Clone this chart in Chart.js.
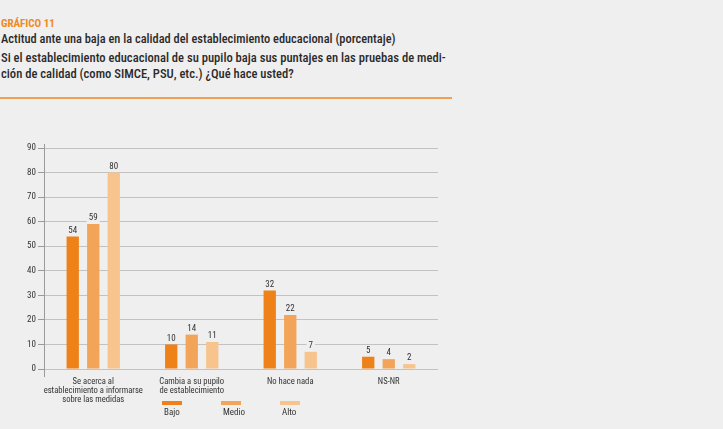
<!DOCTYPE html>
<html>
<head>
<meta charset="utf-8">
<script src="https://cdn.jsdelivr.net/npm/chart.js@4"></script>
<style>
  html, body { margin:0; padding:0; background:#efefef; }
  body { width:723px; height:429px; position:relative; overflow:hidden;
         font-family:"Roboto Condensed","Liberation Sans",sans-serif; color:#222; }
  .kicker { position:absolute; left:1px; top:17px; font-size:11px; font-weight:bold; color:#f0891f; }
  .title  { position:absolute; left:1px; top:31px; font-size:12.4px; font-weight:500; color:#2a2a2a; }
  .sub    { position:absolute; left:1px; top:50px; font-size:12.6px; font-weight:500; color:#2a2a2a; line-height:15.5px; }
  .rule   { position:absolute; left:0; top:97px; width:452px; height:2px; background:#f0a050; }
  #wrap   { position:absolute; left:0; top:130px; width:723px; height:299px; }
  .legend { position:absolute; top:401px; font-size:9px; color:#333; }
  .legend i { display:block; width:20px; height:4px; margin-bottom:2px; }
  .legend span { display:block; padding-left:2px; }
</style>
</head>
<body>
<div class="kicker">GRÁFICO 11</div>
<div class="title">Actitud ante una baja en la calidad del establecimiento educacional (porcentaje)</div>
<div class="sub">Si el establecimiento educacional de su pupilo baja sus puntajes en las pruebas de medi-<br>ción de calidad (como SIMCE, PSU, etc.) ¿Qué hace usted?</div>
<div class="rule"></div>
<div id="wrap"><canvas id="chart"></canvas></div>
<div class="legend" style="left:162px"><i style="background:#ee8118"></i><span>Bajo</span></div>
<div class="legend" style="left:221px"><i style="background:#f2a458"></i><span>Medio</span></div>
<div class="legend" style="left:280px"><i style="background:#f8c48e"></i><span>Alto</span></div>
<script>
// ── Data ─────────────────────────────────────────────────
const categories = [
  ['Se acerca al', 'establecimiento a informarse', 'sobre las medidas'],
  ['Cambia a su pupilo', 'de establecimiento'],
  ['No hace nada'],
  ['NS-NR'],
];
const seriesNames = ['Bajo', 'Medio', 'Alto'];
const bajo  = [54, 10, 32, 5];
const medio = [59, 14, 22, 4];
const alto  = [80, 11, 7, 2];
const seriesColors = ['#ee8118', '#f2a458', '#f8c48e'];

const FONT = '"Roboto Condensed","Liberation Sans",sans-serif';

// value labels above bars, with a background patch that cuts the grid line
const valueLabels = {
  id: 'valueLabels',
  afterDatasetsDraw(chart) {
    const ctx = chart.ctx;
    ctx.save();
    ctx.font = '9px ' + FONT;
    ctx.textAlign = 'center';
    ctx.textBaseline = 'middle';
    chart.data.datasets.forEach((ds, i) => {
      chart.getDatasetMeta(i).data.forEach((bar, j) => {
        const txt = String(ds.data[j]);
        const w = ctx.measureText(txt).width + 4;
        const y = bar.y - 6;
        ctx.fillStyle = '#efefef';
        ctx.fillRect(bar.x - w / 2, y - 5, w, 10);
        ctx.fillStyle = '#333';
        ctx.fillText(txt, bar.x, y);
      });
    });
    ctx.restore();
  }
};

// y axis line runs a little below zero
const axisStub = {
  id: 'axisStub',
  afterDraw(chart) {
    const { ctx, chartArea } = chart;
    ctx.save();
    ctx.strokeStyle = '#9a9a9a';
    ctx.lineWidth = 1;
    ctx.beginPath();
    ctx.moveTo(chartArea.left + 0.5, chartArea.top - 4);
    ctx.lineTo(chartArea.left + 0.5, chartArea.bottom + 8);
    ctx.stroke();
    ctx.restore();
  }
};

new Chart(document.getElementById('chart'), {
  type: 'bar',
  data: {
    labels: categories,
    datasets: [bajo, medio, alto].map((d, i) => ({
      label: seriesNames[i],
      data: d,
      backgroundColor: seriesColors[i],
      borderWidth: 0,
      categoryPercentage: 0.625,
      barPercentage: 0.6,
    }))
  },
  options: {
    responsive: true, maintainAspectRatio: false, animation: false,
    devicePixelRatio: 1,
    layout: { padding: { top: 18, right: 285, left: 0, bottom: 0 } },
    plugins: { legend: { display: false }, tooltip: { enabled: false } },
    scales: {
      x: {
        grid: { display: false },
        border: { display: false },
        ticks: { color: '#333', font: { family: FONT, size: 8.6, lineHeight: '9.2px' }, padding: 0, maxRotation: 0, autoSkip: false },
        afterFit: s => { s.height = 60; },
      },
      y: {
        min: 0, max: 90,
        ticks: { stepSize: 10, color: '#333', font: { family: FONT, size: 9 }, padding: 2 },
        grid: { color: '#c2c2c2', lineWidth: 1, tickLength: 6, tickColor: '#9a9a9a' },
        border: { display: false },
        afterFit: s => { s.width = 44; },
      }
    }
  },
  plugins: [valueLabels, axisStub]
});
</script>
</body>
</html>
